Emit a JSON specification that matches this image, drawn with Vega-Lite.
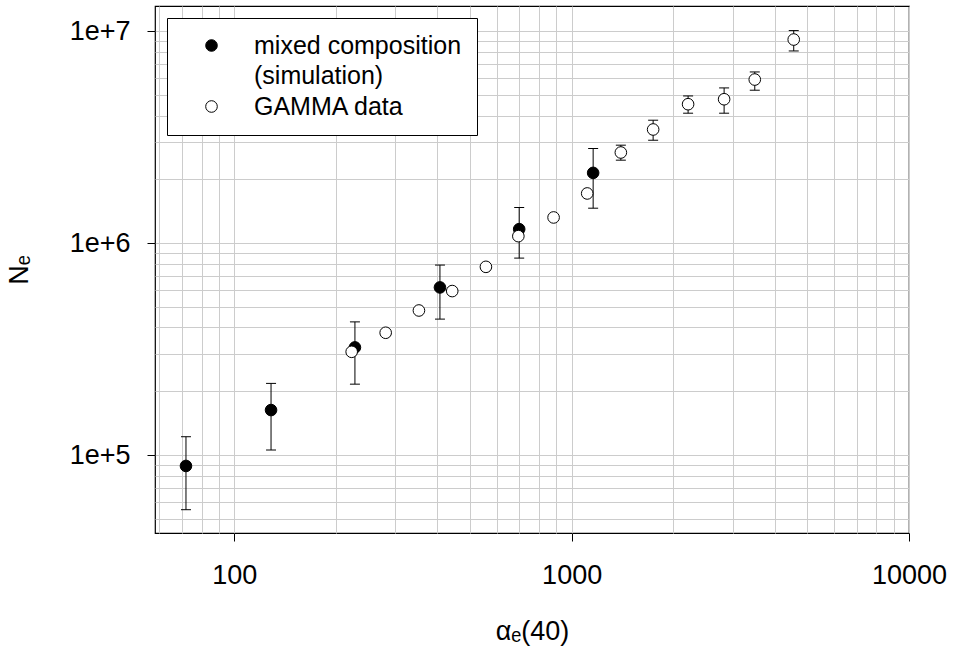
{
  "$schema": "https://vega.github.io/schema/vega-lite/v6.json",
  "width": 754,
  "height": 527,
  "autosize": {"type": "none"},
  "padding": {"left": 155, "top": 6, "right": 45, "bottom": 118},
  "background": "white",
  "config": {
    "view": {"stroke": "black", "strokeWidth": 1.2},
    "font": "Liberation Sans",
    "style": {"guide-label": {"lineHeight": 30}},
    "axis": {
      "domain": false,
      "grid": true,
      "gridColor": "#cccccc",
      "gridWidth": 1,
      "tickColor": "black",
      "tickWidth": 1,
      "labelColor": "black",
      "labelFont": "Liberation Sans",
      "labelFontSize": 27,
      "titleFont": "Liberation Sans",
      "titleFontSize": 27,
      "titleFontWeight": "normal",
      "titleColor": "black",
      "labelOverlap": false,
      "labelFlush": false,
      "labelBound": false
    }
  },
  "data": {
    "values": [
      {"series": "mixed composition (simulation)", "x": 71.9, "y": 88800, "lo": 55200, "hi": 122000},
      {"series": "mixed composition (simulation)", "x": 128.5, "y": 163000, "lo": 105600, "hi": 217800},
      {"series": "mixed composition (simulation)", "x": 227.8, "y": 322000, "lo": 216000, "hi": 425000},
      {"series": "mixed composition (simulation)", "x": 407, "y": 618000, "lo": 438000, "hi": 788000},
      {"series": "mixed composition (simulation)", "x": 699, "y": 1164000, "lo": 850000, "hi": 1473000},
      {"series": "mixed composition (simulation)", "x": 1158, "y": 2146000, "lo": 1462000, "hi": 2797000},
      {"series": "GAMMA data", "x": 222.8, "y": 307000, "lo": null, "hi": null},
      {"series": "GAMMA data", "x": 281, "y": 377600, "lo": null, "hi": null},
      {"series": "GAMMA data", "x": 352.6, "y": 481000, "lo": null, "hi": null},
      {"series": "GAMMA data", "x": 442.6, "y": 594000, "lo": null, "hi": null},
      {"series": "GAMMA data", "x": 557, "y": 773000, "lo": null, "hi": null},
      {"series": "GAMMA data", "x": 695, "y": 1079000, "lo": null, "hi": null},
      {"series": "GAMMA data", "x": 884, "y": 1322000, "lo": null, "hi": null},
      {"series": "GAMMA data", "x": 1112, "y": 1716000, "lo": null, "hi": null},
      {"series": "GAMMA data", "x": 1399, "y": 2678000, "lo": 2464000, "hi": 2900000},
      {"series": "GAMMA data", "x": 1744, "y": 3439000, "lo": 3060000, "hi": 3804000},
      {"series": "GAMMA data", "x": 2214, "y": 4526000, "lo": 4105000, "hi": 4952000},
      {"series": "GAMMA data", "x": 2831, "y": 4777000, "lo": 4105000, "hi": 5403000},
      {"series": "GAMMA data", "x": 3490, "y": 5918000, "lo": 5270000, "hi": 6427000},
      {"series": "GAMMA data", "x": 4553, "y": 9140000, "lo": 8074000, "hi": 10076000}
    ]
  },
  "encoding": {
    "x": {
      "field": "x",
      "type": "quantitative",
      "scale": {"type": "log", "domain": [58.2, 10000], "nice": false},
      "axis": {
        "title": "αₑ(40)",
        "values": [60, 70, 80, 90, 100, 200, 300, 400, 500, 600, 700, 800, 900, 1000, 2000, 3000, 4000, 5000, 6000, 7000, 8000, 9000, 10000],
        "labelExpr": "abs(log(datum.value)/LN10 - round(log(datum.value)/LN10)) < 1e-6 ? format(datum.value, 'd') : ''",
        "tickSize": {"condition": {"test": "abs(log(datum.value)/LN10 - round(log(datum.value)/LN10)) < 1e-6", "value": 8}, "value": 0},
        "labelPadding": 21,
        "titlePadding": 30
      }
    },
    "y": {
      "field": "y",
      "type": "quantitative",
      "scale": {"type": "log", "domain": [42850, 13160000], "nice": false},
      "axis": {
        "title": "Nₑ",
        "values": [50000, 60000, 70000, 80000, 90000, 100000, 200000, 300000, 400000, 500000, 600000, 700000, 800000, 900000, 1000000, 2000000, 3000000, 4000000, 5000000, 6000000, 7000000, 8000000, 9000000, 10000000],
        "labelExpr": "abs(log(datum.value)/LN10 - round(log(datum.value)/LN10)) < 1e-6 ? '1e+' + round(log(datum.value)/LN10) : ''",
        "tickSize": {"condition": {"test": "abs(log(datum.value)/LN10 - round(log(datum.value)/LN10)) < 1e-6", "value": 8}, "value": 0},
        "labelPadding": 17,
        "titlePadding": 36
      }
    }
  },
  "layer": [
    {
      "transform": [{"filter": "isValid(datum.lo)"}],
      "mark": {"type": "rule", "color": "black", "strokeWidth": 1},
      "encoding": {
        "y": {"field": "lo", "type": "quantitative"},
        "y2": {"field": "hi"}
      }
    },
    {
      "transform": [{"filter": "isValid(datum.lo)"}],
      "mark": {"type": "tick", "orient": "horizontal", "color": "black", "size": 10, "thickness": 1, "opacity": 1},
      "encoding": {
        "y": {"field": "lo", "type": "quantitative"}
      }
    },
    {
      "transform": [{"filter": "isValid(datum.hi)"}],
      "mark": {"type": "tick", "orient": "horizontal", "color": "black", "size": 10, "thickness": 1, "opacity": 1},
      "encoding": {
        "y": {"field": "hi", "type": "quantitative"}
      }
    },
    {
      "mark": {"type": "point", "shape": "circle", "filled": true, "size": 135, "stroke": "black", "strokeWidth": 1, "opacity": 1},
      "encoding": {
        "fill": {
          "field": "series",
          "type": "nominal",
          "scale": {"domain": ["mixed composition (simulation)", "GAMMA data"], "range": ["black", "white"]},
          "legend": {
            "title": null,
            "orient": "none",
            "legendX": 12,
            "legendY": 12,
            "strokeColor": "black",
            "fillColor": "white",
            "padding": 15,
            "symbolType": "circle",
            "symbolSize": 135,
            "symbolStrokeColor": "black",
            "symbolStrokeWidth": 1,
            "symbolOpacity": 1,
            "symbolOffset": 17,
            "labelOffset": 30,
            "labelFont": "Liberation Sans",
            "labelFontSize": 25,
            "labelColor": "black",
            "labelLimit": 500,
            "labelBaseline": "middle",
            "rowPadding": 5,
            "labelExpr": "datum.label == 'GAMMA data' ? datum.label : ['mixed composition', '(simulation)']"
          }
        }
      }
    }
  ]
}
